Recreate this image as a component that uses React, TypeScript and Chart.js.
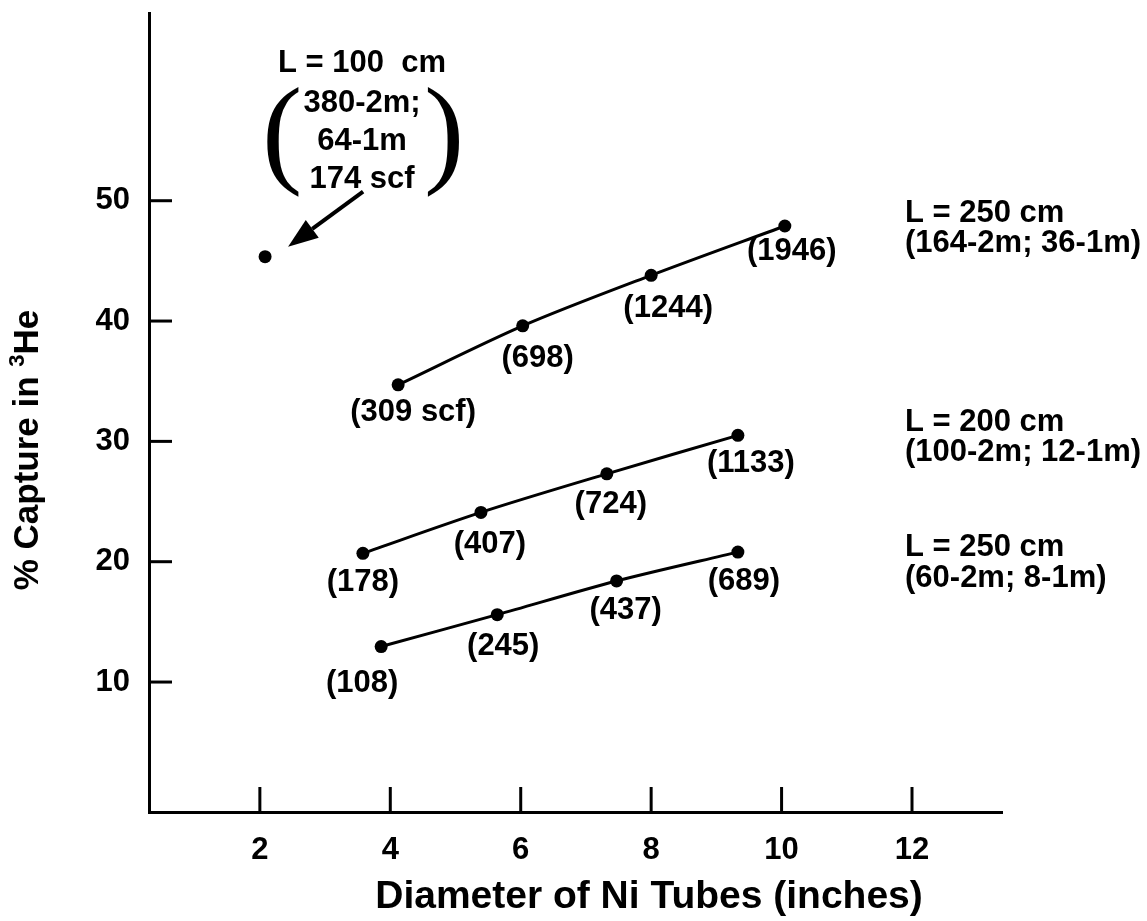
import React, { useEffect, useRef } from 'react';
import { Chart, registerables } from 'chart.js';

Chart.register(...registerables);

// ---- data ----
const xTicks = [2, 4, 6, 8, 10, 12];
const yTicks = [10, 20, 30, 40, 50];

const top250X = [4.12, 6.03, 8.0, 10.05];
const top250Y = [34.7, 39.6, 43.8, 47.9];
const top250Labels = ['(309 scf)', '(698)', '(1244)', '(1946)'];

const mid200X = [3.58, 5.39, 7.32, 9.33];
const mid200Y = [20.7, 24.1, 27.3, 30.5];
const mid200Labels = ['(178)', '(407)', '(724)', '(1133)'];

const low250X = [3.86, 5.64, 7.47, 9.33];
const low250Y = [12.95, 15.6, 18.4, 20.8];
const low250Labels = ['(108)', '(245)', '(437)', '(689)'];

const single100X = [2.08];
const single100Y = [45.35];
const single100Lines = ['L = 100  cm', '380-2m;', '64-1m', '174 scf'];

const seriesNames = [
  ['L = 250 cm', '(164-2m; 36-1m)'],
  ['L = 200 cm', '(100-2m; 12-1m)'],
  ['L = 250 cm', '(60-2m; 8-1m)'],
];

const xTitle = 'Diameter of Ni Tubes (inches)';
const yTitleMain = '% Capture in ';
const yTitleSup = '3';
const yTitleEnd = 'He';

// ---- layout (pixel offsets for annotations) ----
const labelOffsets = [
  [[15, 28], [15, 33], [17, 33], [7, 25]],
  [[0, 29], [9, 32], [4, 31], [13, 28]],
  [[-19, 37], [6, 32], [9, 29], [6, 29]],
];
const nameOffsets = [[-13, 17], [-13, 17], [-5, 26]];
const nameLeft = 905;

const FONT = '"Liberation Sans", Arial, sans-serif';

const toPts = (xs: number[], ys: number[]) => xs.map((x, i) => ({ x, y: ys[i] }));

const annotPlugin = {
  id: 'annot',
  afterDraw(chart: any) {
    const ctx = chart.ctx as CanvasRenderingContext2D;
    const xs = chart.scales.x;
    const ys = chart.scales.y;
    const area = chart.chartArea;
    ctx.save();
    ctx.fillStyle = '#000';
    ctx.strokeStyle = '#000';

    // inward tick marks
    ctx.lineWidth = 3;
    yTicks.forEach((v) => {
      const py = ys.getPixelForValue(v);
      ctx.beginPath();
      ctx.moveTo(area.left, py);
      ctx.lineTo(area.left + 23, py);
      ctx.stroke();
    });
    xTicks.forEach((v) => {
      const px = xs.getPixelForValue(v);
      ctx.beginPath();
      ctx.moveTo(px, area.bottom);
      ctx.lineTo(px, area.bottom - 25);
      ctx.stroke();
    });

    // point labels
    const allLabels = [top250Labels, mid200Labels, low250Labels];
    ctx.font = `bold 31px ${FONT}`;
    ctx.textAlign = 'center';
    ctx.textBaseline = 'middle';
    allLabels.forEach((labels, di) => {
      const meta = chart.getDatasetMeta(di);
      labels.forEach((t, j) => {
        const p = meta.data[j];
        const [dx, dy] = labelOffsets[di][j];
        ctx.fillText(t, p.x + dx, p.y + dy);
      });
    });

    // series names on right
    ctx.textAlign = 'left';
    seriesNames.forEach((lines, di) => {
      const meta = chart.getDatasetMeta(di);
      const last = meta.data[meta.data.length - 1];
      lines.forEach((t, k) => {
        ctx.fillText(t, nameLeft, last.y + nameOffsets[di][k]);
      });
    });

    // single point annotation
    const sp = chart.getDatasetMeta(3).data[0];
    const cx = sp.x + 97;
    ctx.textAlign = 'center';
    const lineDy = [-193, -153, -115, -77];
    single100Lines.forEach((t, k) => ctx.fillText(t, cx, sp.y + lineDy[k]));

    // big parentheses
    ctx.font = `121px "Liberation Serif", serif`;
    ctx.textBaseline = 'alphabetic';
    const m = ctx.measureText('(');
    const topY = sp.y - 170;
    ctx.fillText('(', sp.x + 17, topY + m.actualBoundingBoxAscent);
    ctx.fillText(')', sp.x + 179, topY + m.actualBoundingBoxAscent);

    // arrow
    const tx = sp.x + 23, ty = sp.y - 10;
    const sx = sp.x + 98, sy = sp.y - 65;
    const ang = Math.atan2(ty - sy, tx - sx);
    const headLen = 30, headW = 11;
    const bx = tx - headLen * Math.cos(ang), by = ty - headLen * Math.sin(ang);
    ctx.lineWidth = 4;
    ctx.beginPath();
    ctx.moveTo(sx, sy);
    ctx.lineTo(bx, by);
    ctx.stroke();
    ctx.beginPath();
    ctx.moveTo(tx, ty);
    ctx.lineTo(bx + headW * Math.sin(ang), by - headW * Math.cos(ang));
    ctx.lineTo(bx - headW * Math.sin(ang), by + headW * Math.cos(ang));
    ctx.closePath();
    ctx.fill();

    // x title
    ctx.font = `bold 39px ${FONT}`;
    ctx.textAlign = 'center';
    ctx.textBaseline = 'middle';
    ctx.fillText(xTitle, 649, 897);

    // y title (rotated, with superscript)
    ctx.translate(28, 450);
    ctx.rotate(-Math.PI / 2);
    ctx.textAlign = 'left';
    const mainFont = `bold 35px ${FONT}`;
    const supFont = `bold 22px ${FONT}`;
    ctx.font = mainFont;
    const w1 = ctx.measureText(yTitleMain).width;
    const w3 = ctx.measureText(yTitleEnd).width;
    ctx.font = supFont;
    const w2 = ctx.measureText(yTitleSup).width;
    let x0 = -(w1 + w2 + w3) / 2;
    ctx.font = mainFont;
    ctx.fillText(yTitleMain, x0, 0);
    x0 += w1;
    ctx.font = supFont;
    ctx.fillText(yTitleSup, x0, -10);
    x0 += w2;
    ctx.font = mainFont;
    ctx.fillText(yTitleEnd, x0, 0);

    ctx.restore();
  },
};

export default function App() {
  const canvasRef = useRef<HTMLCanvasElement | null>(null);

  useEffect(() => {
    if (!canvasRef.current) return;
    const lineDs = (xs: number[], ys: number[]) => ({
      data: toPts(xs, ys),
      showLine: true,
      borderColor: '#000',
      borderWidth: 3,
      pointRadius: 6.5,
      pointBackgroundColor: '#000',
      pointBorderWidth: 0,
      tension: 0.3,
    });
    const chart = new Chart(canvasRef.current, {
      type: 'scatter',
      data: {
        datasets: [
          lineDs(top250X, top250Y),
          lineDs(mid200X, mid200Y),
          lineDs(low250X, low250Y),
          {
            data: toPts(single100X, single100Y),
            showLine: false,
            pointRadius: 6.5,
            pointBackgroundColor: '#000',
            pointBorderWidth: 0,
          },
        ],
      },
      options: {
        responsive: false,
        animation: false,
        layout: { padding: { top: 13, right: 145, left: 0, bottom: 0 } },
        plugins: { legend: { display: false }, tooltip: { enabled: false } },
        scales: {
          x: {
            type: 'linear',
            min: 0.3,
            max: 13.38,
            afterBuildTicks: (s: any) => {
              s.ticks = xTicks.map((v) => ({ value: v }));
            },
            afterFit: (s: any) => {
              s.height = 109;
              s.paddingLeft = 0;
              s.paddingRight = 0;
            },
            grid: { display: false },
            border: { display: true, color: '#000', width: 3 },
            ticks: {
              color: '#000',
              font: { family: FONT, size: 31, weight: 'bold' },
              padding: 12,
              maxRotation: 0,
              autoSkip: false,
            },
          },
          y: {
            type: 'linear',
            min: -0.8,
            max: 65.6,
            afterBuildTicks: (s: any) => {
              s.ticks = yTicks.map((v) => ({ value: v }));
            },
            afterFit: (s: any) => {
              s.width = 149;
              s.paddingTop = 0;
              s.paddingBottom = 0;
            },
            grid: { display: false },
            border: { display: true, color: '#000', width: 3 },
            ticks: {
              color: '#000',
              font: { family: FONT, size: 31, weight: 'bold' },
              padding: 11,
              autoSkip: false,
            },
          },
        },
      },
      plugins: [annotPlugin],
    } as any);
    return () => chart.destroy();
  }, []);

  return (
    <div style={{ position: 'absolute', left: 0, top: 0, width: 1147, height: 921, background: '#fff' }}>
      <canvas ref={canvasRef} width={1147} height={921} />
    </div>
  );
}
